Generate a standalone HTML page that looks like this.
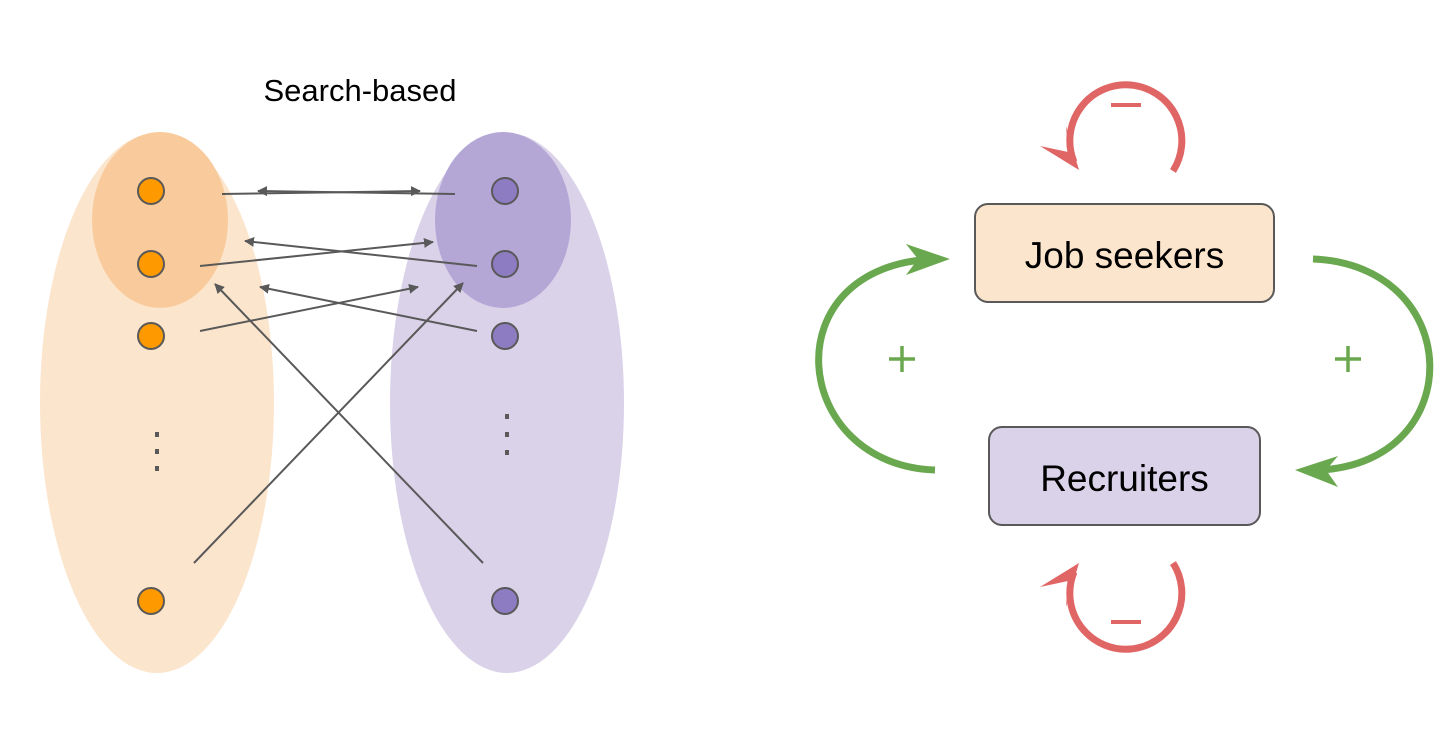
<!DOCTYPE html>
<html><head><meta charset="utf-8"><style>html,body{margin:0;padding:0;background:#fff}svg{display:block}</style></head>
<body>
<svg width="1456" height="732" viewBox="0 0 1456 732" xmlns="http://www.w3.org/2000/svg" font-family="Liberation Sans, sans-serif">
<defs>
<marker id="ag" viewBox="0 0 10 10" refX="9" refY="5" markerWidth="5" markerHeight="5" orient="auto-start-reverse" markerUnits="strokeWidth"><path d="M0,0 L10,5 L0,10 z" fill="#595959"/></marker>
</defs>
<text x="360" y="101" font-size="31" text-anchor="middle" fill="#000">Search-based</text>
<ellipse cx="157" cy="403" rx="117" ry="270" fill="#fce5cd"/>
<ellipse cx="160" cy="220" rx="68" ry="88" fill="#f9cb9c"/>
<ellipse cx="507" cy="403" rx="117" ry="270" fill="#d9d2e9"/>
<ellipse cx="503" cy="220" rx="68" ry="88" fill="#b4a7d6"/>
<g fill="#ff9900" stroke="#595959" stroke-width="2">
<circle cx="151" cy="191" r="13"/><circle cx="151" cy="264" r="13"/><circle cx="151" cy="336" r="13"/><circle cx="151" cy="601" r="13"/></g>
<g fill="#8e7cc3" stroke="#595959" stroke-width="2">
<circle cx="505" cy="191" r="13"/><circle cx="505" cy="264" r="13"/><circle cx="505" cy="336" r="13"/><circle cx="505" cy="601" r="13"/></g>
<g fill="#595959"><rect x="155" y="432" width="4" height="5"/><rect x="155" y="449" width="4" height="5"/><rect x="155" y="466" width="4" height="5"/>
<rect x="505" y="414" width="4" height="5"/><rect x="505" y="432" width="4" height="5"/><rect x="505" y="450" width="4" height="5"/></g>
<g stroke="#595959" stroke-width="2" fill="none" marker-end="url(#ag)">
<line x1="222" y1="194" x2="420" y2="191"/>
<line x1="455" y1="194" x2="258" y2="191"/>
<line x1="200" y1="266" x2="433" y2="242"/>
<line x1="477" y1="266" x2="245" y2="241"/>
<line x1="200" y1="331" x2="418" y2="287"/>
<line x1="477" y1="331" x2="260" y2="287"/>
<line x1="194" y1="563" x2="463" y2="283"/>
<line x1="483" y1="563" x2="215" y2="284"/>
</g>
<!-- right -->
<rect x="975" y="204" width="299" height="98" rx="13" fill="#fce5cd" stroke="#595959" stroke-width="2"/>
<text x="1124.5" y="268" font-size="37" text-anchor="middle" fill="#000">Job seekers</text>
<rect x="989" y="427" width="271" height="98" rx="13" fill="#d9d2e9" stroke="#595959" stroke-width="2"/>
<text x="1124.5" y="491" font-size="37" text-anchor="middle" fill="#000">Recruiters</text>
<g fill="none" stroke="#e06666" stroke-width="7">
<path d="M1074,162 A56,56 0 1 1 1173,171"/>
<path d="M1074,572 A56,56 0 1 0 1173,563"/>
</g>
<g fill="#e06666">
<path d="M1040,146 L1079,170 L1066,126 L1068,152 z"/>
<path d="M1040,587 L1079,563 L1066,607 L1068,581 z"/>
<rect x="1111" y="103" width="30" height="4"/>
<rect x="1111" y="620" width="30" height="4"/>
</g>
<g fill="none" stroke="#6aa84f" stroke-width="7">
<path d="M935,470 C790,465 770,265 935,259"/>
<path d="M1313,259 C1465,265 1470,462 1320,470"/>
</g>
<g fill="#6aa84f">
<path d="M950,259 L906,244 L918,259 L906,275 z"/>
<path d="M1295,470 L1338,456 L1326,470 L1338,487 z"/>
</g>
<g stroke="#6aa84f" stroke-width="3.5">
<line x1="889" y1="359" x2="915" y2="359"/><line x1="902" y1="346" x2="902" y2="372"/>
<line x1="1335" y1="359" x2="1361" y2="359"/><line x1="1348" y1="346" x2="1348" y2="372"/>
</g>
</svg>
</body></html>
